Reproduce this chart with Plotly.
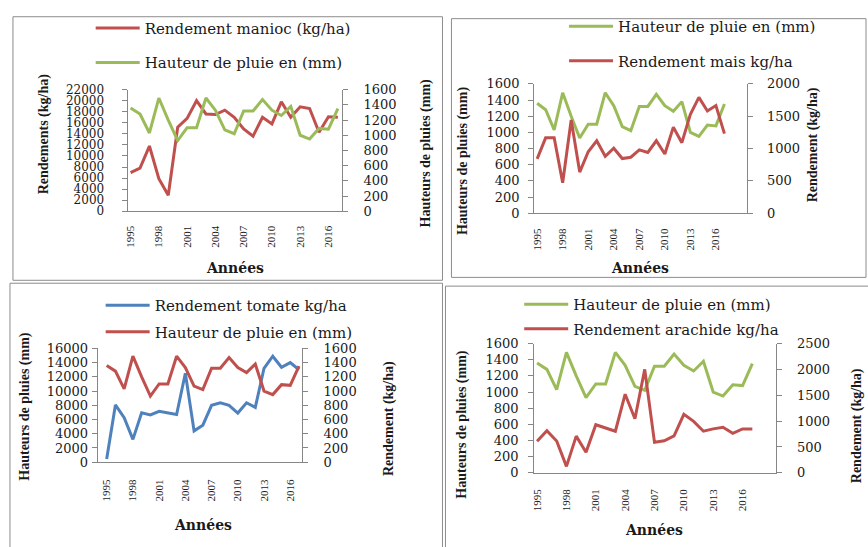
import plotly.graph_objects as go

W, H = 868, 547

# ---------------- data ----------------
annees = list(range(1995, 2018))
annees_ticks = [1995, 1998, 2001, 2004, 2007, 2010, 2013, 2016]

pluie_mm = [1360, 1280, 1030, 1490, 1200, 930, 1100, 1100, 1490, 1330, 1070, 1020,
            1320, 1320, 1470, 1330, 1260, 1380, 1000, 950, 1090, 1080, 1350]

rendement_manioc = [7000, 7800, 11800, 5900, 2900, 15200, 16800, 20000, 17600, 17500, 18300, 17000,
                    14900, 13600, 17000, 15800, 19800, 17000, 18900, 18600, 14300, 17100, 17000]

rendement_mais = [840, 1165, 1165, 470, 1440, 635, 950, 1120, 880, 1005, 845, 865,
                  980, 940, 1120, 915, 1330, 1090, 1530, 1790, 1580, 1665, 1230]

rendement_tomate = [450, 8050, 6250, 3200, 6950, 6650, 7150, 6950, 6700, 12500, 4400, 5200,
                    8000, 8350, 8000, 6900, 8350, 7700, 13200, 14900, 13350, 14000, 13000]

rendement_arachide = [610, 815, 615, 125, 710, 400, 930, 870, 805, 1520, 1045, 2000,
                      590, 620, 715, 1130, 995, 805, 850, 880, 765, 850, 850]

RED = "#C0504D"
GREEN = "#9BBB59"
BLUE = "#4F81BD"
AXIS = "#868686"
TXT = "#1a1a1a"
SERIF_W = "DejaVu Serif"
SERIF = "Liberation Serif"


def px(x):
    return x / W


def py(y):
    return 1 - y / H


fig = go.Figure()

# Panel 1 : manioc
fig.add_trace(go.Scatter(x=annees, y=rendement_manioc, mode="lines", name="Rendement manioc (kg/ha)",
                         line=dict(color=RED, width=3), xaxis="x", yaxis="y",
                         legend="legend", legendgroup="a1"))
fig.add_trace(go.Scatter(x=annees, y=pluie_mm, mode="lines", name="Hauteur de pluie en (mm)",
                         line=dict(color=GREEN, width=3), xaxis="x", yaxis="y2",
                         legend="legend", legendgroup="b1"))
# Panel 2 : mais
fig.add_trace(go.Scatter(x=annees, y=pluie_mm, mode="lines", name="Hauteur de pluie en (mm)",
                         line=dict(color=GREEN, width=3), xaxis="x2", yaxis="y3",
                         legend="legend2", legendgroup="a2"))
fig.add_trace(go.Scatter(x=annees, y=rendement_mais, mode="lines", name="Rendement mais kg/ha",
                         line=dict(color=RED, width=3), xaxis="x2", yaxis="y4",
                         legend="legend2", legendgroup="b2"))
# Panel 3 : tomate
fig.add_trace(go.Scatter(x=annees, y=rendement_tomate, mode="lines", name="Rendement tomate kg/ha",
                         line=dict(color=BLUE, width=3), xaxis="x3", yaxis="y5",
                         legend="legend3", legendgroup="a3"))
fig.add_trace(go.Scatter(x=annees, y=pluie_mm, mode="lines", name="Hauteur de pluie en (mm)",
                         line=dict(color=RED, width=3), xaxis="x3", yaxis="y6",
                         legend="legend3", legendgroup="b3"))
# Panel 4 : arachide
fig.add_trace(go.Scatter(x=annees, y=pluie_mm, mode="lines", name="Hauteur de pluie en (mm)",
                         line=dict(color=GREEN, width=3), xaxis="x4", yaxis="y7",
                         legend="legend4", legendgroup="a4"))
fig.add_trace(go.Scatter(x=annees, y=rendement_arachide, mode="lines", name="Rendement arachide kg/ha",
                         line=dict(color=RED, width=3), xaxis="x4", yaxis="y8",
                         legend="legend4", legendgroup="b4"))

# panels geometry (pixels)
panels = [
    dict(x0=125, x1=340, yt=85, yb=210, xr=[1994.68, 2017.42], xs=9),
    dict(x0=533, x1=747, yt=79, yb=212, xr=[1994.65, 2019.7], xs=10),
    dict(x0=95, x1=300, yt=351, yb=468, xr=[1993.97, 2017.34], xs=12),
    dict(x0=533, x1=776, yt=346, yb=479, xr=[1994.7, 2019.45], xs=11),
]
yranges = [
    ([0, 22000], 2000, [0, 1600], 200),
    ([0, 1600], 200, [0, 2000], 500),
    ([0, 16000], 2000, [0, 1600], 200),
    ([0, 1600], 200, [0, 2500], 500),
]
standoffs = [(15, 13), (6, 11), (1, 13), (7, 12)]
leftsize = [12, 13, 13, 13]

layout = dict(
    width=W, height=H, margin=dict(l=0, r=0, t=0, b=0),
    paper_bgcolor="white", plot_bgcolor="rgba(0,0,0,0)",
    showlegend=True,
)

for i, p in enumerate(panels):
    xa = "xaxis" if i == 0 else f"xaxis{i+1}"
    ylA = 2 * i + 1
    yrA = 2 * i + 2
    ylname = "yaxis" if ylA == 1 else f"yaxis{ylA}"
    yrname = f"yaxis{yrA}"
    xid = "x" if i == 0 else f"x{i+1}"
    ylid = "y" if ylA == 1 else f"y{ylA}"
    ydom = [py(p["yb"]), py(p["yt"])]
    layout[xa] = dict(
        domain=[px(p["x0"]), px(p["x1"])], anchor=ylid, range=p["xr"],
        showline=True, linecolor=AXIS, linewidth=1, showgrid=False, zeroline=False,
        tickmode="array", tickvals=annees_ticks, tickangle=-90, ticks="",
        tickfont=dict(family=SERIF, size=11, color=TXT), ticklabelstandoff=p["xs"],
    )
    lr, ld, rr, rd = yranges[i]
    layout[ylname] = dict(
        domain=ydom, anchor=xid, range=lr, dtick=ld, tick0=0, tickformat="d",
        showline=True, linecolor=AXIS, linewidth=1, showgrid=False, zeroline=False,
        ticks="outside", ticklen=5, tickcolor=AXIS, tickwidth=1,
        tickfont=dict(family=SERIF_W, size=leftsize[i], color=TXT), ticklabelstandoff=standoffs[i][0],
    )
    layout[yrname] = dict(
        overlaying=ylid, side="right", anchor=xid, range=rr, dtick=rd, tick0=0, tickformat="d",
        showline=True, linecolor=AXIS, linewidth=1, showgrid=False, zeroline=False,
        ticks="outside", ticklen=5, tickcolor=AXIS, tickwidth=1,
        tickfont=dict(family=SERIF_W, size=13, color=TXT), ticklabelstandoff=standoffs[i][1],
    )

leg_common = dict(bgcolor="rgba(0,0,0,0)", borderwidth=0, orientation="v",
                  xanchor="left", yanchor="top", itemwidth=44,
                  font=dict(family=SERIF_W, size=15, color=TXT))
layout["legend"] = dict(leg_common, x=px(88), y=py(5), tracegroupgap=12)
layout["legend2"] = dict(leg_common, x=px(563), y=py(3), tracegroupgap=12)
layout["legend3"] = dict(leg_common, x=px(98), y=py(290), tracegroupgap=4)
layout["legend4"] = dict(leg_common, x=px(518), y=py(289), tracegroupgap=2)

fig.update_layout(**layout)

# axis titles
ann = []


def title(x, y, text, rot):
    ann.append(dict(x=px(x), y=py(y), xref="paper", yref="paper", text=text, showarrow=False,
                    textangle=-90 if rot else 0, xanchor="center", yanchor="middle",
                    font=dict(family=SERIF if rot else SERIF_W, size=14, color=TXT, weight="bold")))


title(42, 130, "Rendements (kg/ha)", True)
title(424, 150, "Hauteurs de pluies (mm)", True)
title(233, 268, "Années", False)

title(461, 158, "Hauteurs de pluies (mm)", True)
title(813, 142, "Rendement (kg/ha)", True)
title(639, 268, "Années", False)

title(22, 410, "Hauteurs de pluies (mm)", True)
title(388, 423, "Rendement (kg/ha)", True)
title(201, 533, "Années", False)

title(461, 429, "Hauteurs de pluies (mm)", True)
title(857, 431, "Rendement (kg/ha)", True)
title(653, 538, "Années", False)

fig.update_layout(annotations=ann)

# panel borders
border = dict(color="#8c8c8c", width=1)
shapes = []
for (x0, y0, x1, y1) in [(10, 10, 441, 281), (450, 12, 866, 278), (7, 284, 441, 560), (444, 287, 880, 560)]:
    shapes.append(dict(type="rect", xref="paper", yref="paper", x0=px(x0), x1=px(x1),
                       y0=py(y1), y1=py(y0), line=border, fillcolor="rgba(0,0,0,0)", layer="below"))
fig.update_layout(shapes=shapes)

fig.write_html("out.html", config={"displayModeBar": False},
               post_script="document.body.style.margin='0px';")
